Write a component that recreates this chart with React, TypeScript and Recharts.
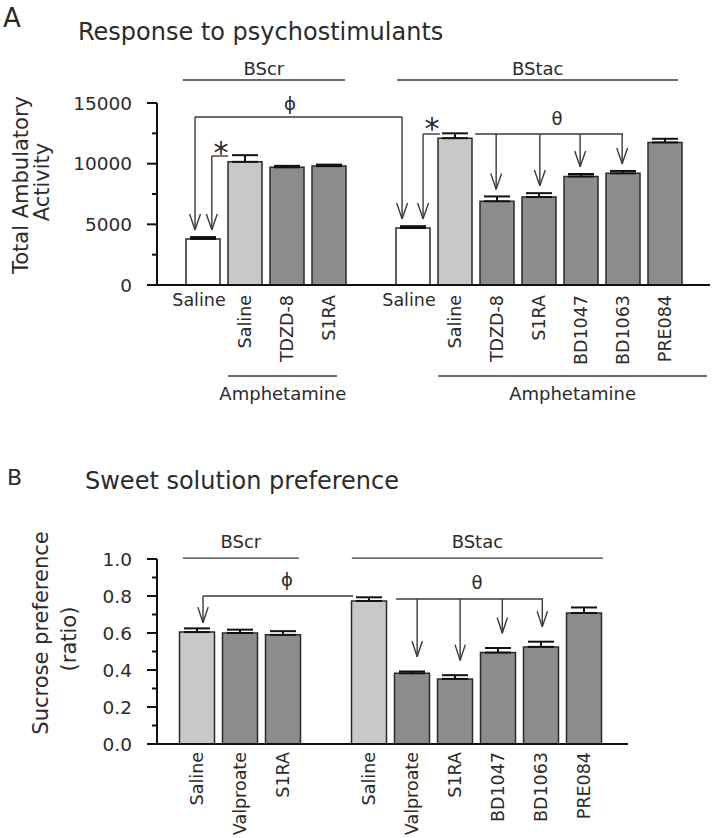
import React from 'react';
import { BarChart, Bar, XAxis, YAxis, ErrorBar, Cell, ReferenceLine, ReferenceDot } from 'recharts';

const FONT = '"DejaVu Sans", sans-serif';
const INK = '#2b2b2b';
const LINE = '#3a3a3a';
const WHITE = '#ffffff';
const LIGHT = '#c8c8c8';
const DARK = '#8c8c8c';

// ---- Panel A: response to psychostimulants ----
const aLabels = ['Saline', 'Saline', 'TDZD-8', 'S1RA', '', 'Saline', 'Saline', 'TDZD-8', 'S1RA', 'BD1047', 'BD1063', 'PRE084'];
const aAmphetamine = [false, true, true, true, false, false, true, true, true, true, true, true];
const aMeans = [3800, 10150, 9700, 9800, null, 4700, 12100, 6900, 7250, 8950, 9200, 11750];
const aSem = [150, 550, 120, 120, null, 150, 400, 400, 320, 200, 200, 300];
const aYTicks = [0, 2500, 5000, 7500, 10000, 12500, 15000];

// ---- Panel B: sweet solution preference ----
const bLabels = ['Saline', 'Valproate', 'S1RA', '', 'Saline', 'Valproate', 'S1RA', 'BD1047', 'BD1063', 'PRE084'];
const bMeans = [0.605, 0.6, 0.59, null, 0.773, 0.382, 0.352, 0.494, 0.525, 0.708];
const bSem = [0.02, 0.018, 0.02, null, 0.02, 0.01, 0.02, 0.025, 0.028, 0.03];
const bYTicks = [0, 0.1, 0.2, 0.3, 0.4, 0.5, 0.6, 0.7, 0.8, 0.9, 1.0];

const aRows = aLabels.map((label, i) => ({
  id: `a${i}`,
  idx: i,
  label,
  amph: aAmphetamine[i],
  mean: aMeans[i],
  err: aSem[i] == null ? undefined : [0, aSem[i]],
}));

const bRows = bLabels.map((label, i) => ({
  id: `b${i}`,
  idx: i,
  label,
  mean: bMeans[i],
  err: bSem[i] == null ? undefined : [0, bSem[i]],
}));

const aFill = (r: any) => (r.label === 'Saline' ? (r.amph ? LIGHT : WHITE) : DARK);
const bFill = (r: any) => (r.label === 'Saline' ? LIGHT : DARK);

type Pt = [number, number];
type Seg = [Pt, Pt];

// bar top + error + gap, for arrow tips
const tipOf = (means: (number | null)[], sem: (number | null)[], i: number, gap: number) =>
  (means[i] as number) + (sem[i] as number) + gap;

const arrow = (x: number, from: number, tip: number, hw: number, hh: number): Seg[] => [
  [[x, from], [x, tip]],
  [[x - hw, tip + hh], [x, tip]],
  [[x + hw, tip + hh], [x, tip]],
];

const aTip = (i: number) => tipOf(aMeans, aSem, i, 600);
const aArrow = (x: number, from: number, i: number) => arrow(x, from, aTip(i), 0.13, 1300);

const aSegs: Seg[] = [
  // x axis overhang left of the y axis
  [[-0.83, 0], [-0.6, 0]],
  // phi bracket
  [[0.31, 13850], [5.24, 13850]],
  ...aArrow(0.31, 13850, 0),
  ...aArrow(5.24, 13850, 5),
  // * brackets
  [[0.71, 10630], [1.1, 10630]],
  ...aArrow(0.71, 10630, 0),
  [[5.74, 12445], [6.14, 12445]],
  ...aArrow(5.74, 12445, 5),
  // theta bracket
  [[6.98, 12445], [10.5, 12445]],
  ...aArrow(7.48, 12445, 7),
  ...aArrow(8.52, 12445, 8),
  ...aArrow(9.48, 12445, 9),
  ...aArrow(10.48, 12445, 10),
  // group lines
  [[0.02, 16900], [3.88, 16900]],
  [[5.12, 16900], [11.81, 16900]],
  [[1.1, -7500], [3.69, -7500]],
  [[6.1, -7500], [12.5, -7500]],
];

const aTexts: { x: number; y: number; t: string; size: number }[] = [
  { x: 2.57, y: 14420, t: 'ϕ', size: 18 },
  { x: 0.93, y: 10014, t: '*', size: 30 },
  { x: 5.95, y: 12074, t: '*', size: 30 },
  { x: 8.93, y: 13190, t: 'θ', size: 18 },
  { x: 1.95, y: 17300, t: 'BScr', size: 18 },
  { x: 8.47, y: 17300, t: 'BStac', size: 18 },
  { x: 2.4, y: -9480, t: 'Amphetamine', size: 18 },
  { x: 9.3, y: -9480, t: 'Amphetamine', size: 18 },
];

const bTip = (i: number, gap: number) => tipOf(bMeans, bSem, i, gap);
const bArrow = (x: number, from: number, i: number, gap: number) => arrow(x, from, bTip(i, gap), 0.12, 0.085);

const bSegs: Seg[] = [
  [[-0.66, 0], [-0.43, 0]],
  // phi
  [[0.64, 0.8], [4.13, 0.8]],
  ...bArrow(0.64, 0.8, 0, 0.03),
  // theta
  [[5.13, 0.784], [8.55, 0.784]],
  ...bArrow(5.62, 0.784, 5, 0.08),
  ...bArrow(6.62, 0.784, 6, 0.08),
  ...bArrow(7.6, 0.784, 7, 0.08),
  ...bArrow(8.53, 0.784, 8, 0.08),
  // group lines
  [[0.17, 1.005], [2.87, 1.005]],
  [[4.1, 1.005], [9.94, 1.005]],
];

const bTexts: { x: number; y: number; t: string; size: number }[] = [
  { x: 2.59, y: 0.854, t: 'ϕ', size: 18 },
  { x: 7.01, y: 0.838, t: 'θ', size: 18 },
  { x: 1.52, y: 1.06, t: 'BScr', size: 18 },
  { x: 7.02, y: 1.06, t: 'BStac', size: 18 },
];

const renderSegs = (segs: Seg[], prefix: string) =>
  segs.map((s, k) => (
    <ReferenceLine
      key={`${prefix}${k}`}
      xAxisId="n"
      segment={[{ x: s[0][0], y: s[0][1] }, { x: s[1][0], y: s[1][1] }]}
      stroke={k === 0 ? '#111' : LINE}
      strokeWidth={k === 0 ? 2 : 1.4}
      ifOverflow="visible"
    />
  ));

const renderTexts = (texts: { x: number; y: number; t: string; size: number }[], prefix: string) =>
  texts.map((d, k) => (
    <ReferenceDot
      key={`${prefix}${k}`}
      xAxisId="n"
      x={d.x}
      y={d.y}
      r={0}
      ifOverflow="visible"
      shape={(p: any) => (
        <text x={p.cx} y={p.cy} textAnchor="middle" fontSize={d.size} fontFamily={FONT} fill={INK}>
          {d.t}
        </text>
      )}
    />
  ));

const makeYTick = (isMajor: (v: number) => boolean, fmt: (v: number) => string) => (props: any) => {
  const { x, y, payload } = props;
  const axisX = x + 25;
  const major = isMajor(payload.value);
  return (
    <g>
      <line x1={axisX - (major ? 10 : 5)} x2={axisX} y1={y} y2={y} stroke="#111" strokeWidth={2} />
      {major && (
        <text x={x} y={y} dy="0.36em" textAnchor="end" fontSize={18.5} fontFamily={FONT} fill={INK}>
          {fmt(payload.value)}
        </text>
      )}
    </g>
  );
};

const AYTick = makeYTick((v) => v % 5000 === 0, (v) => String(v));
const BYTick = makeYTick((v) => Math.round(v * 10) % 2 === 0, (v) => v.toFixed(1));

const ATick = (props: any) => {
  const { x, y, payload } = props;
  const row = aRows.find((r) => r.id === payload.value);
  if (!row || !row.label) return <g />;
  if (!row.amph) {
    return (
      <text x={x - 4} y={y + 21} textAnchor="middle" fontSize={17.5} fontFamily={FONT} fill={INK}>
        {row.label}
      </text>
    );
  }
  const ty = y + 10;
  return (
    <text x={x} y={ty} transform={`rotate(-90 ${x} ${ty})`} dy="0.36em" textAnchor="end" fontSize={17.5} fontFamily={FONT} fill={INK}>
      {row.label}
    </text>
  );
};

const BTick = (props: any) => {
  const { x, y, payload } = props;
  const row = bRows.find((r) => r.id === payload.value);
  if (!row || !row.label) return <g />;
  const ty = y + 8;
  return (
    <text x={x} y={ty} transform={`rotate(-90 ${x} ${ty})`} dy="0.36em" textAnchor="end" fontSize={17.5} fontFamily={FONT} fill={INK}>
      {row.label}
    </text>
  );
};

const axisLine = { stroke: '#111', strokeWidth: 2 };

export default function App() {
  return (
    <div style={{ position: 'absolute', left: 0, top: 0, width: 714, height: 838, background: '#fff' }}>
      <div style={{ position: 'absolute', left: 0, top: 0 }}>
        <BarChart width={714} height={440} data={aRows} margin={{ top: 103, right: 4, left: 97, bottom: 125 }} barSize={34}>
          <XAxis
            xAxisId="cat"
            dataKey="id"
            height={30}
            padding={{ left: 25, right: 24 }}
            axisLine={axisLine}
            tickLine={false}
            tickSize={0}
            tickMargin={0}
            interval={0}
            tick={ATick}
          />
          <XAxis xAxisId="n" dataKey="idx" type="number" domain={[0, 12]} padding={{ left: 25, right: 24 }} allowDataOverflow hide />
          <YAxis
            width={60}
            domain={[0, 15000]}
            ticks={aYTicks}
            allowDataOverflow
            interval={0}
            axisLine={axisLine}
            tickLine={false}
            tickSize={10}
            tickMargin={15}
            tick={AYTick}
          />
          <Bar xAxisId="cat" dataKey="mean" stroke="#2a2a2a" strokeWidth={1.5} isAnimationActive={false}>
            {aRows.map((r) => (
              <Cell key={r.id} fill={aFill(r)} />
            ))}
            <ErrorBar dataKey="err" width={13} strokeWidth={2} stroke="#111" direction="y" />
          </Bar>
          {renderSegs(aSegs, 'as')}
          {renderTexts(aTexts, 'at')}
        </BarChart>
      </div>
      <div style={{ position: 'absolute', left: 0, top: 440 }}>
        <BarChart width={714} height={398} data={bRows} margin={{ top: 119, right: 86, left: 97, bottom: 64 }} barSize={35}>
          <XAxis
            xAxisId="cat"
            dataKey="id"
            height={30}
            padding={{ left: 18.5, right: 22.5 }}
            axisLine={axisLine}
            tickLine={false}
            tickSize={0}
            tickMargin={0}
            interval={0}
            tick={BTick}
          />
          <XAxis xAxisId="n" dataKey="idx" type="number" domain={[0, 10]} padding={{ left: 18.5, right: 22.5 }} allowDataOverflow hide />
          <YAxis
            width={60}
            domain={[0, 1]}
            ticks={bYTicks}
            allowDataOverflow
            interval={0}
            axisLine={axisLine}
            tickLine={false}
            tickSize={10}
            tickMargin={15}
            tick={BYTick}
          />
          <Bar xAxisId="cat" dataKey="mean" stroke="#2a2a2a" strokeWidth={1.5} isAnimationActive={false}>
            {bRows.map((r) => (
              <Cell key={r.id} fill={bFill(r)} />
            ))}
            <ErrorBar dataKey="err" width={13} strokeWidth={2} stroke="#111" direction="y" />
          </Bar>
          {renderSegs(bSegs, 'bs')}
          {renderTexts(bTexts, 'bt')}
        </BarChart>
      </div>
      <svg
        width={714}
        height={838}
        style={{ position: 'absolute', left: 0, top: 0, pointerEvents: 'none' }}
        fontFamily={FONT}
        fill={INK}
      >
        <text x={3} y={27} fontSize={26}>A</text>
        <text x={78} y={40} fontSize={24}>Response to psychostimulants</text>
        <text x={28} y={185} fontSize={21} textAnchor="middle" transform="rotate(-90 28 185)">Total Ambulatory</text>
        <text x={49} y={182} fontSize={21} textAnchor="middle" transform="rotate(-90 49 182)">Activity</text>
        <text x={7} y={485} fontSize={22}>B</text>
        <text x={85} y={489} fontSize={24}>Sweet solution preference</text>
        <text x={48} y={633} fontSize={21} textAnchor="middle" transform="rotate(-90 48 633)">Sucrose preference</text>
        <text x={76} y={639} fontSize={21} textAnchor="middle" transform="rotate(-90 76 639)">(ratio)</text>
      </svg>
    </div>
  );
}
